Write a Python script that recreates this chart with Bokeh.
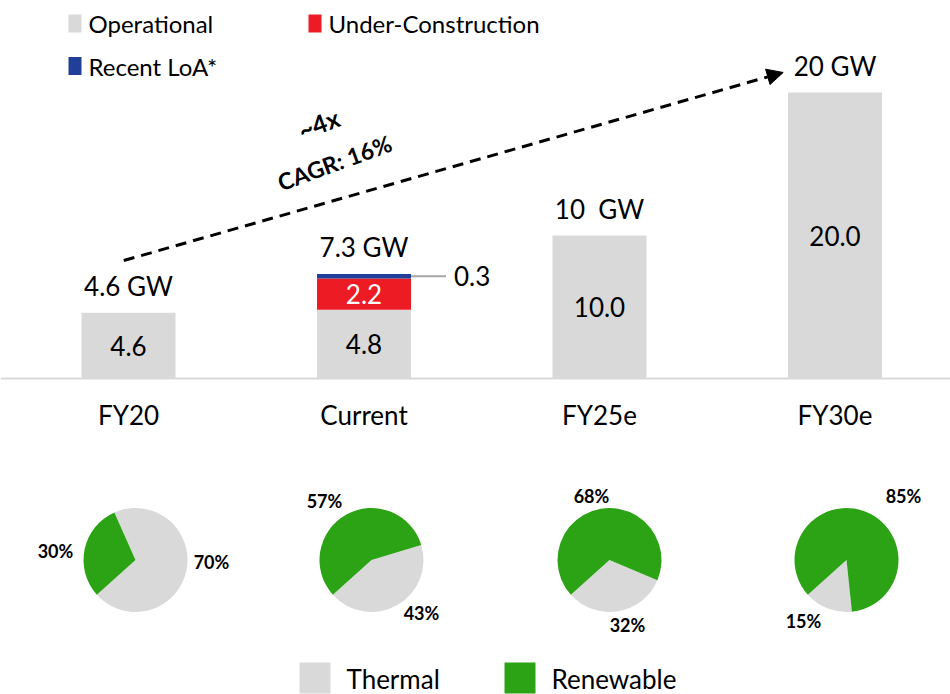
import math
from bokeh.plotting import figure
from bokeh.models import Range1d, Span, Arrow, NormalHead
from bokeh.core.properties import value
from bokeh.embed import file_html
from bokeh.resources import INLINE

# ---------------- data ----------------
categories = ["FY20", "Current", "FY25e", "FY30e"]
operational = [4.6, 4.8, 10.0, 20.0]
under_construction = [0.0, 2.2, 0.0, 0.0]
recent_loa = [0.0, 0.3, 0.0, 0.0]
total_labels = ["4.6 GW", "7.3 GW", "10\u00a0\u00a0GW", "20 GW"]
renewable_share = [30, 57, 68, 85]
thermal_share = [70, 43, 32, 15]
cagr_text = "CAGR: 16%"
multiple_text = "~4x"

# ---------------- layout helpers (pixel geometry of the page) ----------------
W, H = 950, 694
PX_PER_CAT = 235.5
PX_PER_GW = 14.3
FIRST_CENTER_PX = 128
BASE_PX = 378
x0 = -FIRST_CENTER_PX / PX_PER_CAT
x1 = x0 + W / PX_PER_CAT


def X(px):
    return x0 + px / PX_PER_CAT


def Y(py):
    return (BASE_PX - py) / PX_PER_GW


GRAY = "#d9d9d9"
RED = "#ed1c24"
BLUE = "#213e98"
GREEN = "#2ca215"
FONT = value("Lato")

p = figure(width=W, height=H, x_range=Range1d(x0, x1), y_range=Range1d(Y(H), Y(0)),
           output_backend="svg", toolbar_location=None, min_border=0,
           x_axis_location=None, y_axis_location=None)
p.grid.visible = False
p.outline_line_color = None

xs = list(range(len(categories)))
bar_w = 94 / PX_PER_CAT

# stacked bars
b1 = [0.0] * 4
t1 = [b + v for b, v in zip(b1, operational)]
t2 = [b + v for b, v in zip(t1, under_construction)]
t3 = [b + v for b, v in zip(t2, recent_loa)]
p.vbar(x=xs, width=bar_w, bottom=b1, top=t1, fill_color=GRAY, line_color=None)
p.vbar(x=xs, width=bar_w, bottom=t1, top=t2, fill_color=RED, line_color=None)
p.vbar(x=xs, width=bar_w, bottom=t2, top=t3, fill_color=BLUE, line_color=None)

# baseline
p.add_layout(Span(location=0, dimension="width", line_color=GRAY, line_width=2))

LBL = "26px"
# value labels inside bars
p.text(x=xs, y=[(b + t) / 2 for b, t in zip(b1, t1)], text=[f"{v:.1f}" for v in operational],
       text_align="center", text_baseline="middle", text_font=FONT, text_font_size=LBL,
       text_color="#000000")
uc_idx = [i for i, v in enumerate(under_construction) if v > 0]
p.text(x=[xs[i] for i in uc_idx], y=[(t1[i] + t2[i]) / 2 for i in uc_idx],
       text=[f"{under_construction[i]:.1f}" for i in uc_idx],
       text_align="center", text_baseline="middle", text_font=FONT, text_font_size=LBL,
       text_color="#ffffff")
# recent LoA leader + label
loa_idx = [i for i, v in enumerate(recent_loa) if v > 0]
for i in loa_idx:
    ymid = t2[i] + recent_loa[i] / 2
    p.segment(x0=[xs[i] + bar_w / 2], y0=[ymid], x1=[xs[i] + bar_w / 2 + 35 / PX_PER_CAT], y1=[ymid],
              line_color="#a6a6a6", line_width=2)
    p.text(x=[xs[i] + bar_w / 2 + 43 / PX_PER_CAT], y=[ymid], text=[f"{recent_loa[i]:.1f}"],
           text_align="left", text_baseline="middle", text_font=FONT, text_font_size=LBL,
           text_color="#000000")

# totals above bars
p.text(x=xs, y=t3, text=total_labels, text_align="center", text_baseline="alphabetic",
       y_offset=-27, text_font=FONT, text_font_size=LBL, text_color="#000000")

# category labels
p.text(x=xs, y=[0] * 4, text=categories, text_align="center", text_baseline="alphabetic",
       y_offset=36, text_font=FONT, text_font_size=LBL, text_color="#000000")

# growth arrow
p.add_layout(Arrow(end=NormalHead(size=16, fill_color="black", line_color="black"),
                   x_start=xs[0] - 0.02, y_start=t3[0] + 3.65,
                   x_end=xs[3] - 0.22, y_end=t3[3] + 1.4,
                   line_width=3, line_dash="11 7", line_color="black"))
p.text(x=[X(318)], y=[Y(123)], text=[multiple_text], angle=0.35, text_align="center",
       text_baseline="middle", text_font=FONT, text_font_style="bold", text_font_size="25px")
p.text(x=[X(334)], y=[Y(162)], text=[cagr_text], angle=0.35, text_align="center",
       text_baseline="middle", text_font=FONT, text_font_style="bold", text_font_size="23px")

# top legend
leg_items = [("Operational", GRAY, 74.5, 23), ("Under-Construction", RED, 314.5, 23),
             ("Recent LoA*", BLUE, 74.5, 65.5)]
for name, col, cx, cy in leg_items:
    p.rect(x=[X(cx)], y=[Y(cy)], width=13, height=18, width_units="screen", height_units="screen",
           fill_color=col, line_color=None)
    p.text(x=[X(cx + 13.5)], y=[Y(cy)], text=[name], text_align="left", text_baseline="middle",
           text_font=FONT, text_font_size="24px", text_color="#000000")

# pies
pie_dx_px = [7, 7.5, 10, 11.5]
pie_cy_px = 559.5
pie_x = [xs[i] + pie_dx_px[i] / PX_PER_CAT for i in range(4)]
pie_y = [Y(pie_cy_px)] * 4
ref = math.radians(222)
g_start = [ref - r / 100 * 2 * math.pi for r in renewable_share]
g_end = [ref] * 4
t_start = [ref] * 4
t_end = [ref + t / 100 * 2 * math.pi for t in thermal_share]
p.wedge(x=pie_x, y=pie_y, radius=52, radius_units="screen", start_angle=t_start, end_angle=t_end,
        fill_color=GRAY, line_color=None)
p.wedge(x=pie_x, y=pie_y, radius=52, radius_units="screen", start_angle=g_start, end_angle=g_end,
        fill_color=GREEN, line_color=None)

ren_off = [(-80, -9), (-47, -59), (-18, -64), (57, -64)]
th_off = [(76, 2), (50, 53), (18, 65), (-43, 61)]
p.text(x=pie_x, y=pie_y, text=[f"{r}%" for r in renewable_share],
       x_offset=[o[0] for o in ren_off], y_offset=[o[1] for o in ren_off],
       text_align="center", text_baseline="middle", text_font=FONT, text_font_style="bold",
       text_font_size="18px", text_color="#000000")
p.text(x=pie_x, y=pie_y, text=[f"{t}%" for t in thermal_share],
       x_offset=[o[0] for o in th_off], y_offset=[o[1] for o in th_off],
       text_align="center", text_baseline="middle", text_font=FONT, text_font_style="bold",
       text_font_size="18px", text_color="#000000")

# bottom legend
for name, col, cx in [("Thermal", GRAY, 314.5), ("Renewable", GREEN, 519.5)]:
    p.rect(x=[X(cx)], y=[Y(677.5)], width=31, height=31, width_units="screen", height_units="screen",
           fill_color=col, line_color=None)
    p.text(x=[X(cx + 31.5)], y=[Y(678)], text=[name], text_align="left", text_baseline="middle",
           text_font=FONT, text_font_size=LBL, text_color="#000000")

open("out.html", "w").write(file_html(p, INLINE))
